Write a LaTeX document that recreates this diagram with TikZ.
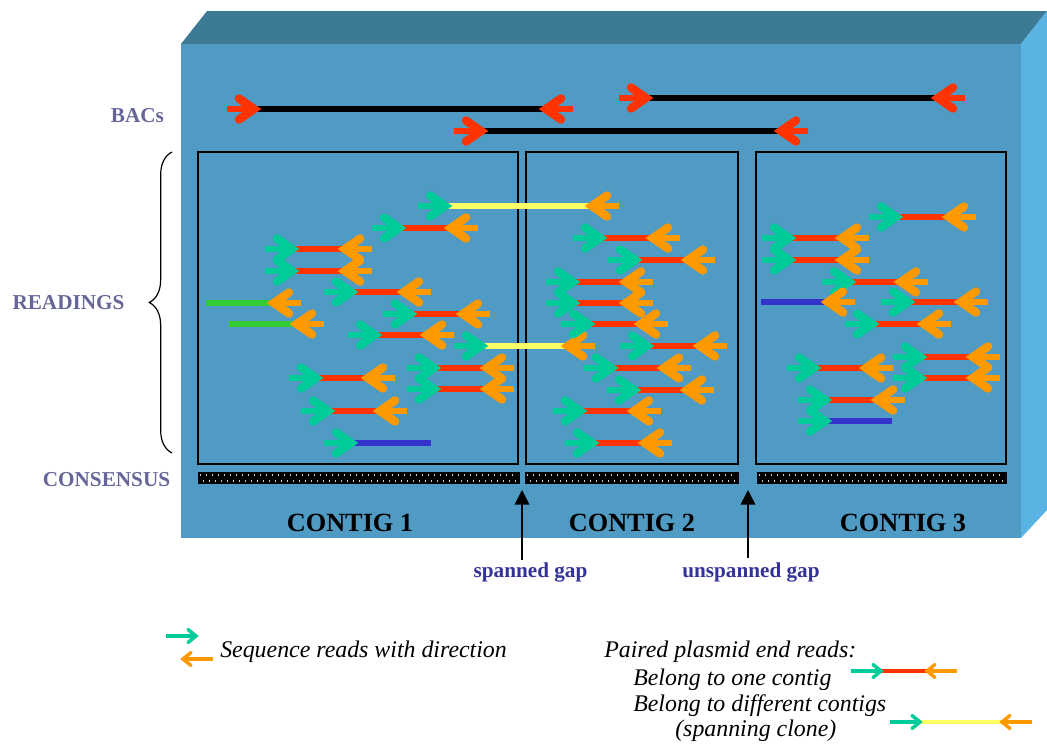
\documentclass[tikz,border=0pt]{standalone}
\usepackage{fontspec}
\setmainfont{Liberation Serif}
\usetikzlibrary{arrows.meta,decorations.pathreplacing}

\definecolor{facefront}{RGB}{79,155,196}
\definecolor{facetop}{RGB}{61,122,150}
\definecolor{faceside}{RGB}{90,180,227}
\definecolor{fwdgreen}{RGB}{0,204,153}
\definecolor{revorange}{RGB}{255,153,0}
\definecolor{bacred}{RGB}{255,51,0}
\definecolor{cloneyellow}{RGB}{255,255,102}
\definecolor{endblue}{RGB}{51,51,204}
\definecolor{endgreen}{RGB}{51,204,51}
\definecolor{labelgray}{RGB}{102,102,153}
\definecolor{gapblue}{RGB}{51,51,153}
\definecolor{dotgray}{RGB}{205,205,205}

\tikzset{
  readarrow/.pic={
    \draw[line width=5pt] (0,0) -- (26,0);
    \draw[line width=6.3pt,line cap=round,line join=miter] (12,-10.5) -- (27,0) -- (12,10.5);
  },
  smallarrow/.pic={
    \draw[line width=2.6pt] (0,0) -- (30,0);
    \draw[line width=2.6pt,line cap=round,line join=miter] (22,-6.5) -- (30,0) -- (22,6.5);
  },
  cloneline/.style={line width=4.1pt},
  bacline/.style={line width=4.6pt,black},
  contigbox/.style={draw=black,line width=1.5pt},
  lbl/.style={font=\fontsize{15.9}{19}\selectfont\bfseries,text=labelgray,anchor=base,inner sep=0pt},
  contiglbl/.style={font=\fontsize{19.7}{23}\selectfont\bfseries,text=black,anchor=base,inner sep=0pt},
  gaplbl/.style={font=\fontsize{15.9}{19}\selectfont\bfseries,text=gapblue,anchor=base,inner sep=0pt},
  legendtxt/.style={font=\fontsize{17.9}{21}\selectfont\itshape,text=black,anchor=base west,inner sep=0pt},
  gaparrow/.style={line width=1.3pt,-{Triangle[length=11pt,width=11pt]}},
}

% a pair of end reads joined by their clone: left x, right x, y, clone colour
\newcommand\readpair[4]{%
  \draw[cloneline,#4] (#1+24,#3) -- (#2-24,#3);
  \pic[color=fwdgreen] at (#1,#3) {readarrow};
  \pic[color=revorange,xscale=-1] at (#2,#3) {readarrow};
}
% a reverse read whose partner lies outside: line start x, read tail x, y, colour
\newcommand\revend[4]{%
  \draw[cloneline,#4] (#1,#3) -- (#2-24,#3);
  \pic[color=revorange,xscale=-1] at (#2,#3) {readarrow};
}
% a forward read whose partner lies outside: read tail x, line end x, y, colour
\newcommand\fwdend[4]{%
  \draw[cloneline,#4] (#1+24,#3) -- (#2,#3);
  \pic[color=fwdgreen] at (#1,#3) {readarrow};
}
% a BAC clone with its two end reads
\newcommand\bac[3]{%
  \draw[bacline] (#1+24,#3) -- (#2-24,#3);
  \pic[color=bacred] at (#1,#3) {readarrow};
  \pic[color=bacred,xscale=-1] at (#2,#3) {readarrow};
}
% a consensus bar with its dotted texture
\newcommand\consensus[2]{%
  \fill[black] (#1,472) rectangle (#2,484);
  \draw[dotgray,line width=1.1pt,dash pattern=on 1.1pt off 3.4pt] (#1+2,475) -- (#2-2,475);
  \draw[dotgray,line width=1.1pt,dash pattern=on 1.1pt off 3.4pt,dash phase=2.25pt] (#1+2,481) -- (#2-2,481);
}

\begin{document}
\begin{tikzpicture}[x=0.75pt,y=-0.75pt]
\useasboundingbox (0,0) rectangle (1047,746);
\fill[white] (0,0) rectangle (1047,746);

% the slab
\fill[facetop] (181,44) -- (207,11) -- (1047,11) -- (1021,44) -- cycle;
\fill[faceside] (1021,44) -- (1047,11) -- (1047,510) -- (1021,538) -- cycle;
\fill[facefront] (181,44) rectangle (1021,538);

% row labels
\node[lbl] (bacs) at (137.5,122) {BACs};
\node[lbl] (readings) at (68.5,309) {READINGS};
\node[lbl] (cons) at (106.5,486) {CONSENSUS};
\draw[decorate,decoration={brace,amplitude=17pt},line width=0.9pt] (172,453) -- (172,152);

% BACs
\bac{227}{573}{109}
\bac{619}{965}{98}
\bac{454}{808}{131}

% contig frames
\draw[contigbox] (198,152) rectangle (518,464);
\draw[contigbox] (526,152) rectangle (738,464);
\draw[contigbox] (756,152) rectangle (1006,464);

% contig 1 reads
\readpair{418}{619}{206}{cloneyellow}
\readpair{372}{478}{228}{bacred}
\readpair{265}{372}{249}{bacred}
\readpair{265}{372}{271}{bacred}
\readpair{324}{431}{292}{bacred}
\revend{206}{301}{303}{endgreen}
\revend{229}{324}{324}{endgreen}
\readpair{383}{490}{314}{bacred}
\readpair{348}{454}{335}{bacred}
\readpair{454}{595}{346}{cloneyellow}
\readpair{407}{514}{368}{bacred}
\readpair{289}{395}{378}{bacred}
\readpair{407}{514}{389}{bacred}
\readpair{301}{407}{411}{bacred}
\fwdend{324}{431}{443}{endblue}

% contig 2 reads
\readpair{573}{680}{238}{bacred}
\readpair{608}{715}{260}{bacred}
\readpair{546}{653}{282}{bacred}
\readpair{546}{653}{303}{bacred}
\readpair{561}{668}{324}{bacred}
\readpair{620}{727}{346}{bacred}
\readpair{584}{691}{368}{bacred}
\readpair{607}{714}{390}{bacred}
\readpair{553}{661}{411}{bacred}
\readpair{565}{672}{443}{bacred}

% contig 3 reads
\readpair{869}{976}{217}{bacred}
\readpair{762}{869}{238}{bacred}
\readpair{762}{869}{260}{bacred}
\readpair{822}{928}{282}{bacred}
\revend{761}{855}{302}{endblue}
\readpair{881}{988}{302}{bacred}
\readpair{845}{951}{324}{bacred}
\readpair{893}{1000}{357}{bacred}
\readpair{787}{893}{368}{bacred}
\readpair{893}{1000}{378}{bacred}
\readpair{798}{905}{400}{bacred}
\fwdend{798}{892}{421}{endblue}

% consensus bars
\consensus{198}{520}
\consensus{525}{739}
\consensus{757}{1007}

% contig names
\node[contiglbl] (c1) at (350,531) {CONTIG 1};
\node[contiglbl] (c2) at (632,531) {CONTIG 2};
\node[contiglbl] (c3) at (903,531) {CONTIG 3};

% gaps
\coordinate (gapA) at (522,490);
\coordinate (gapAtail) at (522,560);
\coordinate (gapB) at (748,490);
\coordinate (gapBtail) at (748,558);
\draw[gaparrow] (gapAtail) -- (gapA);
\draw[gaparrow] (gapBtail) -- (gapB);
\node[gaplbl] (spanned) at (530.5,577) {spanned gap};
\node[gaplbl] (unspanned) at (751,577) {unspanned gap};

% legend
\pic[color=fwdgreen] at (166,636) {smallarrow};
\pic[color=revorange,xscale=-1] at (213,659) {smallarrow};
\node[legendtxt] (seq) at (220,657) {Sequence reads with direction};

\node[legendtxt] (paired) at (604,657) {Paired plasmid end reads:};
\node[legendtxt] (one) at (633,685) {Belong to one contig};
\node[legendtxt] (diff) at (633,711) {Belong to different contigs};
\node[legendtxt] (span) at (675,736) {(spanning clone)};

\draw[line width=2.4pt,bacred] (880,671) -- (928,671);
\pic[color=fwdgreen] at (851,671) {smallarrow};
\pic[color=revorange,xscale=-1] at (957,671) {smallarrow};
\draw[line width=2.4pt,cloneyellow] (919,722) -- (1012,722);
\pic[color=fwdgreen] at (890,722) {smallarrow};
\pic[color=revorange,xscale=-1] at (1032,722) {smallarrow};
\end{tikzpicture}
\end{document}
